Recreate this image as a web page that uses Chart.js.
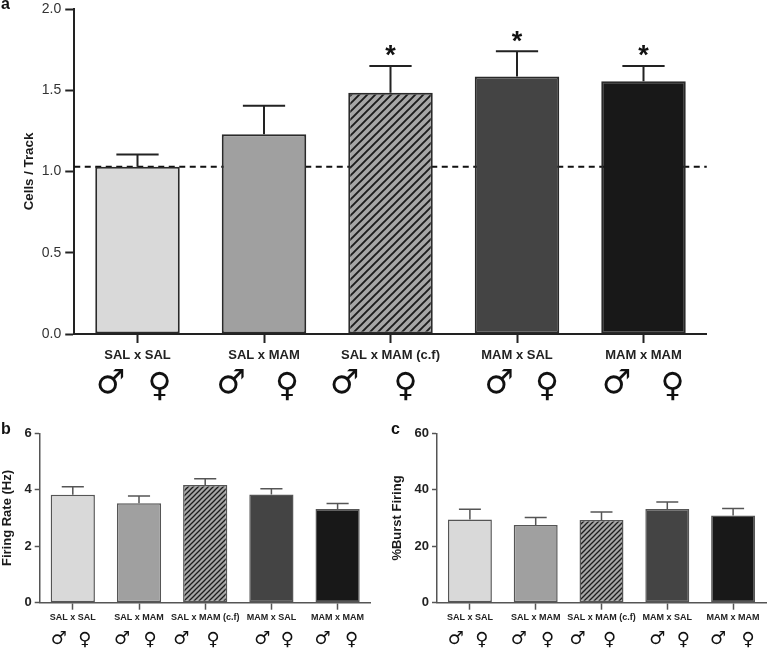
<!DOCTYPE html>
<html>
<head>
<meta charset="utf-8">
<script src="https://cdn.jsdelivr.net/npm/chart.js@4"></script>
<style>
  html, body { margin: 0; padding: 0; background: #fff; }
  #page { position: relative; width: 768px; height: 648px; overflow: hidden; }
  canvas { position: absolute; }
  .letter { position: absolute; font: bold 16px "Liberation Sans", Arial, sans-serif; color: #111; }
</style>
</head>
<body>
<div id="page">
  <canvas id="chart_a" width="768" height="420" style="left:0;top:-10px;filter:blur(0.35px)"></canvas>
  <canvas id="chart_b" width="385" height="228" style="left:0;top:420px;filter:blur(0.55px)"></canvas>
  <canvas id="chart_c" width="383" height="228" style="left:385px;top:420px;filter:blur(0.55px)"></canvas>
  <div class="letter" style="left:1px;top:-5px">a</div>
  <div class="letter" style="left:1px;top:420px">b</div>
  <div class="letter" style="left:391px;top:420px">c</div>
</div>
<script>
const categories = ['SAL x SAL', 'SAL x MAM', 'SAL x MAM (c.f)', 'MAM x SAL', 'MAM x MAM'];

const cells_values = [1.03, 1.23, 1.485, 1.585, 1.555];
const cells_error_tops = [1.105, 1.405, 1.65, 1.74, 1.65];
const cells_reference = 1.03;
const cells_starred = [2, 3, 4];
const cells_ticks = [0, 0.5, 1, 1.5, 2];

const firing_values = [3.82, 3.52, 4.17, 3.83, 3.32];
const firing_error_tops = [4.11, 3.78, 4.39, 4.04, 3.51];
const firing_ticks = [0, 2, 4, 6];

const burst_values = [29.5, 27.5, 29.3, 33.2, 30.9];
const burst_error_tops = [33.1, 30.2, 32.1, 35.7, 33.4];
const burst_ticks = [0, 20, 40, 60];

const male_symbol = '\u2642';
const female_symbol = '\u2640';
const SANS = '"Liberation Sans", Arial, sans-serif';

function makeHatch(size, line_width) {
  let tile = document.createElement('canvas');
  tile.width = size;
  tile.height = size;
  let c = tile.getContext('2d');
  c.fillStyle = '#a6a6a6';
  c.fillRect(0, 0, size, size);
  c.strokeStyle = '#1c1c1c';
  c.lineWidth = line_width;
  c.beginPath();
  c.moveTo(-1, size + 1); c.lineTo(size + 1, -1);
  c.moveTo(-1, 1); c.lineTo(1, -1);
  c.moveTo(size - 1, size + 1); c.lineTo(size + 1, size - 1);
  c.stroke();
  return c.createPattern(tile, 'repeat');
}

// error bars, stars, reference line and sex symbols all go through the chart scales
const extrasPlugin = {
  id: 'extras',
  beforeDatasetsDraw(chart, args, opts) {
    if (opts.reference === undefined) return;
    let ctx = chart.ctx;
    let y = chart.scales.y.getPixelForValue(opts.reference);
    ctx.save();
    ctx.strokeStyle = '#111';
    ctx.lineWidth = 2;
    ctx.setLineDash([6, 4.5]);
    ctx.beginPath();
    ctx.moveTo(chart.chartArea.left, y);
    ctx.lineTo(chart.chartArea.right, y);
    ctx.stroke();
    ctx.restore();
  },
  afterDatasetsDraw(chart, args, opts) {
    let ctx = chart.ctx;
    let bars = chart.getDatasetMeta(0).data;
    ctx.save();
    ctx.strokeStyle = opts.errorColor;
    ctx.lineWidth = opts.errorWidth;
    bars.forEach((bar, i) => {
      let top = chart.scales.y.getPixelForValue(opts.errorTops[i]);
      let cap = bar.width / 4;
      ctx.beginPath();
      ctx.moveTo(bar.x, bar.y);
      ctx.lineTo(bar.x, top);
      ctx.moveTo(bar.x - cap, top);
      ctx.lineTo(bar.x + cap, top);
      ctx.stroke();
    });
    ctx.fillStyle = '#111';
    ctx.textAlign = 'center';
    ctx.textBaseline = 'middle';
    ctx.font = 'bold 27px ' + SANS;
    (opts.starred || []).forEach(i => {
      let top = chart.scales.y.getPixelForValue(opts.errorTops[i]);
      ctx.fillText('*', bars[i].x, top - 9);
    });
    ctx.font = 'bold ' + opts.symbolSize + 'px "DejaVu Sans"';
    bars.forEach((bar, i) => {
      ctx.fillText(male_symbol, bar.x + opts.maleOffsets[i], opts.maleY);
      ctx.fillText(female_symbol, bar.x + opts.femaleOffsets[i], opts.femaleY);
    });
    ctx.restore();
  }
};

function renderPanel(id, setup) {
  const ctx = document.getElementById(id);
  let colours = ['#d9d9d9', '#a0a0a0', setup.hatch, '#444444', '#181818'];
  return new Chart(ctx, {
    type: 'bar',
    plugins: [extrasPlugin],
    data: {
      labels: categories,
      datasets: [{
        data: setup.values,
        backgroundColor: colours,
        borderColor: setup.borderColor,
        borderWidth: setup.borderWidth,
        borderSkipped: false,
        barPercentage: 0.668,
        categoryPercentage: 1
      }]
    },
    options: {
      responsive: false,
      animation: false,
      events: [],
      layout: { padding: { top: setup.top, right: setup.right, left: 0, bottom: 0 } },
      plugins: {
        legend: { display: false },
        tooltip: { enabled: false },
        extras: {
          errorTops: setup.errorTops,
          errorColor: setup.axisColor,
          errorWidth: setup.lineWidth,
          reference: setup.reference,
          starred: setup.starred,
          symbolSize: setup.symbolSize,
          maleOffsets: setup.maleOffsets,
          femaleOffsets: setup.femaleOffsets,
          maleY: setup.maleY,
          femaleY: setup.femaleY
        }
      },
      scales: {
        x: {
          grid: { offset: false, drawOnChartArea: false, tickLength: setup.xTick, tickColor: setup.axisColor, tickWidth: setup.lineWidth },
          border: { color: setup.axisColor, width: setup.lineWidth },
          ticks: {
            autoSkip: false, maxRotation: 0, minRotation: 0,
            color: '#222', padding: setup.xPad,
            font: { family: SANS, size: setup.xFont, weight: 'bold' }
          },
          afterFit(scale) { scale.height = setup.xHeight; }
        },
        y: {
          min: 0,
          max: setup.ticks[setup.ticks.length - 1],
          afterBuildTicks(scale) { scale.ticks = setup.ticks.map(v => ({ value: v })); },
          grid: { drawOnChartArea: false, tickLength: setup.yTick, tickColor: setup.axisColor, tickWidth: setup.lineWidth },
          border: { color: setup.axisColor, width: setup.lineWidth },
          ticks: {
            color: setup.tickColor, padding: setup.yPad,
            font: { family: SANS, size: setup.yFont, weight: setup.yWeight },
            callback: v => setup.decimals ? v.toFixed(setup.decimals) : String(v)
          },
          title: {
            display: true, text: setup.title, color: '#1a1a1a',
            padding: { top: setup.titlePad, bottom: 0 },
            font: { family: SANS, size: setup.titleFont, weight: 'bold' }
          },
          afterFit(scale) { scale.width = setup.yWidth; }
        }
      }
    }
  });
}

renderPanel('chart_a', {
  values: cells_values, errorTops: cells_error_tops, ticks: cells_ticks,
  reference: cells_reference, starred: cells_starred, title: 'Cells / Track', decimals: 1,
  hatch: makeHatch(8, 1.9), borderColor: '#2a2a2a', borderWidth: 2,
  axisColor: '#222', tickColor: '#333', lineWidth: 2, xTick: 9, yTick: 9,
  top: 19, right: 61.25, yWidth: 74.25, xHeight: 76,
  xPad: 5, yPad: 4, xFont: 13, yFont: 14, yWeight: 'normal', titleFont: 13.3, titlePad: 21,
  symbolSize: 33, maleY: 394, femaleY: 397,
  maleOffsets: [-27, -33, -46, -18, -27],
  femaleOffsets: [22, 23, 15, 30, 29]
});

renderPanel('chart_b', {
  values: firing_values, errorTops: firing_error_tops, ticks: firing_ticks,
  title: 'Firing Rate (Hz)', decimals: 0,
  hatch: makeHatch(5, 1.3), borderColor: '#555', borderWidth: 1.5,
  axisColor: '#555', tickColor: '#222', lineWidth: 1.5, xTick: 7, yTick: 5,
  top: 13.3, right: 14.3, yWidth: 39.7, xHeight: 45.3,
  xPad: 2, yPad: 3, xFont: 9, yFont: 13, yWeight: 'bold', titleFont: 13, titlePad: 0,
  symbolSize: 18, maleY: 219, femaleY: 220,
  maleOffsets: [-14, -17, -24, -9, -15],
  femaleOffsets: [12, 11, 8, 16, 14]
});

renderPanel('chart_c', {
  values: burst_values, errorTops: burst_error_tops, ticks: burst_ticks,
  title: '%Burst Firing', decimals: 0,
  hatch: makeHatch(5, 1.3), borderColor: '#555', borderWidth: 1.5,
  axisColor: '#555', tickColor: '#222', lineWidth: 1.5, xTick: 7, yTick: 5,
  top: 13.3, right: 2, yWidth: 52, xHeight: 45.3,
  xPad: 2, yPad: 3, xFont: 9, yFont: 13, yWeight: 'bold', titleFont: 13, titlePad: 5,
  symbolSize: 18, maleY: 219, femaleY: 220,
  maleOffsets: [-14, -17, -24, -10, -15],
  femaleOffsets: [12, 12, 8, 16, 15]
});
</script>
</body>
</html>
